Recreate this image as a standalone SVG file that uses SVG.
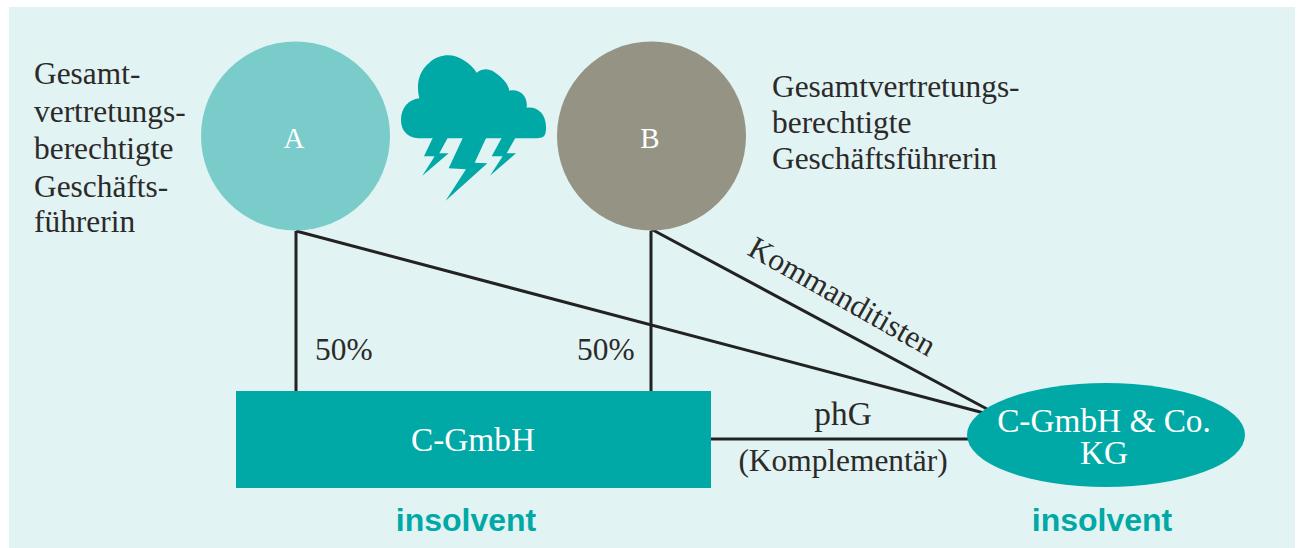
<svg xmlns="http://www.w3.org/2000/svg" width="1300" height="548" viewBox="0 0 1300 548">
<style>
.t{font-family:"Liberation Serif",serif;font-size:31.400px;fill:#2b2a29}
.w{font-family:"Liberation Serif",serif;font-size:33.300px;fill:#fff;text-anchor:middle}
.n{font-family:"Liberation Serif",serif;font-size:29px;fill:#fff;text-anchor:middle}
.b{font-family:"Liberation Sans",Arial,sans-serif;font-size:32px;font-weight:700;fill:#00a9a6;text-anchor:middle}
.c{fill:none;stroke:#222;stroke-width:3}
</style>
<rect width="1300" height="548" fill="#fff"/>
<rect x="9" y="7" width="1286" height="541" fill="#e1f3f3"/>
<g id="connectors">
<path class="c" d="M296 231V392M651 231V392M296 231L984 413M651 229L987 409M710 439H970"/>
</g>
<g id="node-a">
<circle cx="295.500" cy="136" r="94.500" fill="#7accca"/>
<text class="n" x="294" y="148">A</text>
</g>
<g id="node-b">
<circle cx="651.500" cy="136" r="94.500" fill="#959383"/>
<text class="n" x="650" y="148">B</text>
</g>
<g id="cloud" transform="translate(390 40) scale(.33333)" fill="#00a9a6">
<path d="M88 175C78 135 85 95 118 68C150 40 190 40 220 60C240 72 252 85 260 98C285 80 305 88 325 105C345 122 355 135 358 152C385 145 415 165 410 203C440 198 468 220 468 260C468 285 465 293 440 295H85C50 292 33 270 33 240C33 205 55 178 88 175Z"/>
<path d="M130 290L102 349H134L97 407L176 340H148L175 290ZM220 290L176 385L228 388L167 482L292 370L254 368L290 290ZM337 290L305 349H338L300 407L378 340H350L378 290Z"/>
</g>
<g id="label-left">
<text class="t" x="34" y="84">Gesamt-</text>
<text class="t" x="34" y="122">vertretungs-</text>
<text class="t" x="34" y="159">berechtigte</text>
<text class="t" x="34" y="197">Geschäfts-</text>
<text class="t" x="34" y="232">führerin</text>
</g>
<g id="label-right">
<text class="t" x="772" y="97">Gesamtvertretungs-</text>
<text class="t" x="772" y="133">berechtigte</text>
<text class="t" x="772" y="169">Geschäftsführerin</text>
</g>
<g id="node-c">
<rect x="236" y="391" width="475" height="97" fill="#00a9a6"/>
<text class="w" x="473" y="451">C-GmbH</text>
</g>
<g id="node-kg">
<ellipse cx="1106" cy="435" rx="139" ry="52" fill="#00a9a6"/>
<text class="w"><tspan x="1104" y="432">C-GmbH &amp; Co.</tspan><tspan x="1104" y="464">KG</tspan></text>
</g>
<text class="t" x="315" y="360">50%</text>
<text class="t" x="577" y="360">50%</text>
<text class="t" x="0" y="0" transform="translate(746 254) rotate(29.500)">Kommanditisten</text>
<text class="w" x="843" y="425" style="fill:#2b2a29">phG</text>
<text class="t" x="843" y="471" text-anchor="middle">(Komplementär)</text>
<text class="b" x="466" y="531">insolvent</text>
<text class="b" x="1102" y="531">insolvent</text>
</svg>
